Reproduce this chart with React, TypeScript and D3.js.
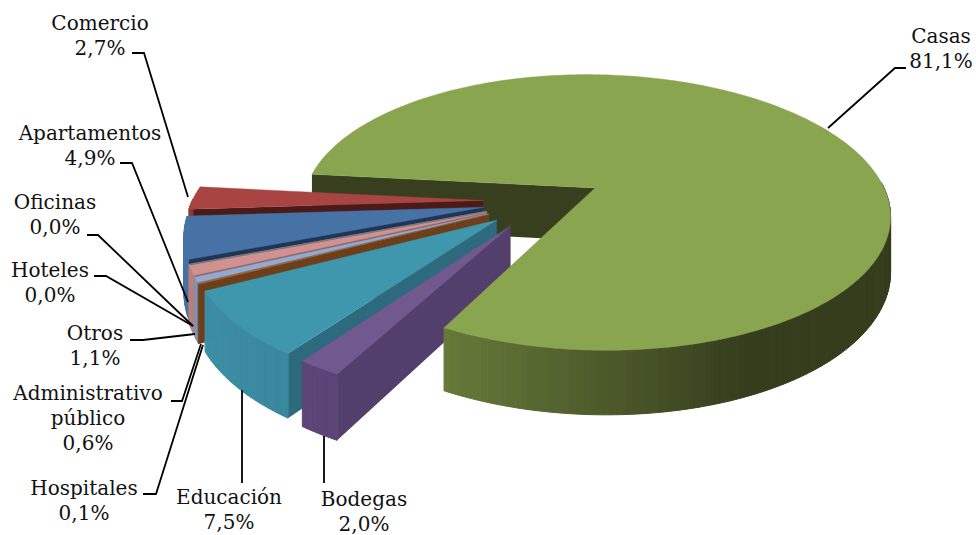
import * as d3 from "d3";

type Slice = { name: string; value: number };

const WIDTH = 976;
const HEIGHT = 535;

// same order as the workbook, clockwise from the back left
const names = ["Casas", "Bodegas", "Educación", "Hospitales", "Administrativo público", "Otros", "Hoteles", "Oficinas", "Apartamentos", "Comercio"];
const shares = [81.1, 2.0, 7.5, 0.1, 0.6, 1.1, 0.0, 0.0, 4.9, 2.7];
const shareLabels = ["81,1%", "2,0%", "7,5%", "0,1%", "0,6%", "1,1%", "0,0%", "0,0%", "4,9%", "2,7%"];

const topColors = ["#8AA550", "#71588F", "#3F97AE", "#A9622A", "#94A9CF", "#D09291", "#9A8F8F", "#6F7F8F", "#4672A6", "#A84442"];
const cutColors = ["#373F1E", "#533F6B", "#2E6A7D", "#6C3F1A", "#5B6B8A", "#8A6463", "#5F5A5A", "#45505C", "#1F3557", "#4A1A18"];
const rimLight = ["#849E4A", "#62497F", "#3F90A7", "#7A4A1E", "#8296BA", "#B98281", "#8A8080", "#5F6F7F", "#4672A6", "#8E3A38"];
const rimDark = ["#353D1D", "#4F3C67", "#2C7388", "#6C3F1A", "#5B6B8A", "#8A6463", "#5F5A5A", "#45505C", "#30507A", "#4A1A18"];

// screen layout of the labels: [centre x, first baseline] and leader polyline
const labelPos: [number, number][] = [[941, 43], [364, 506], [229, 504], [84, 495], [88, 400], [95, 340], [50, 277], [55, 209], [90, 140], [100, 30]];
const labelLines: [number, number][][] = [
  [[828, 128], [895, 68], [906, 68]],
  [[324, 436], [324, 483]],
  [[242, 390], [242, 483]],
  [[143, 494], [156, 494], [203, 345]],
  [[171, 401], [182, 401], [201, 344]],
  [[130, 340], [143, 340], [195, 334]],
  [[94, 276], [106, 276], [193, 326]],
  [[87, 235], [98, 235], [193, 326]],
  [[120, 163], [132, 163], [188, 302]],
  [[132, 53], [144, 53], [188, 197]],
];

const FIRST_ANGLE = (276 * Math.PI) / 180;
const R = 291;
const R_CASAS = 294;
const SMALL_Z = 0.97; // the exploded slices come out a little shorter towards the viewer
const EXPLODE = 60;
const DEPTH = 54;
const OX = 543;
const OY = 201;
const TILT = 0.47;
const PERSP = 0.000614;

const project = (x: number, z: number, h = 0): [number, number] => {
  const s = 1 / (1 - PERSP * z);
  return [OX + x * s, OY + (z * TILT + h) * s];
};

const slices: Slice[] = names.map((name, i) => ({ name, value: shares[i] }));
const arcs = d3
  .pie<Slice>()
  .value((d) => d.value)
  .sort(null)
  .startAngle(FIRST_ANGLE)
  .endAngle(FIRST_ANGLE + Math.PI * 2)(slices);

const line = d3.line();
const shadeT = d3.scaleLinear().domain([-1, 0.4]).range([0, 1]).clamp(true);

const geometry = (i: number) => {
  const a = arcs[i];
  const mid = (a.startAngle + a.endAngle) / 2;
  const cx = EXPLODE * Math.sin(mid);
  const cz = -EXPLODE * Math.cos(mid);
  const rx = i === 0 ? R_CASAS : R;
  const rz = i === 0 ? R_CASAS : R * SMALL_Z;
  const rimAt = (t: number, h = 0) => project(cx + rx * Math.sin(t), cz - rz * Math.cos(t), h);
  const cutWall = [project(cx, cz), rimAt(a.startAngle), rimAt(a.startAngle, DEPTH), project(cx, cz, DEPTH)] as [number, number][];
  return { a, cx, cz, rimAt, cutWall };
};

const CutWall = ({ i }: { i: number }) => <path d={line(geometry(i).cutWall) + "Z"} fill={cutColors[i]} />;

const SliceBody = ({ i }: { i: number }) => {
  const { a, cx, cz, rimAt } = geometry(i);
  const steps = Math.max(2, Math.ceil((a.endAngle - a.startAngle) / 0.02));
  const angles = d3.range(steps + 1).map((k) => a.startAngle + ((a.endAngle - a.startAngle) * k) / steps);
  const shade = d3.interpolateRgb(rimLight[i], rimDark[i]);
  const top = [project(cx, cz), ...angles.map((t) => rimAt(t))] as [number, number][];

  return (
    <g>
      {angles.slice(1).map((t, k) => {
        // back half of the rim faces away
        if (Math.cos(t) > 0.02) return null;
        const quad = [rimAt(angles[k]), rimAt(t), rimAt(t, DEPTH), rimAt(angles[k], DEPTH)] as [number, number][];
        const c = shade(shadeT(Math.sin(t)));
        return <path key={k} d={line(quad) + "Z"} fill={c} stroke={c} strokeWidth={1} />;
      })}
      <path d={line(top) + "Z"} fill={topColors[i]} stroke={topColors[i]} strokeWidth={0.4} />
    </g>
  );
};

export default function App() {
  // back to front; Casas top and rim sit in front of the small exploded slices
  const drawOrder = [9, 8, 7, 6, 5, 4, 3, 2, 1];

  return (
    <svg width={WIDTH} height={HEIGHT} style={{ position: "absolute", left: 0, top: 0, background: "#fff" }}>
      <CutWall i={0} />
      {drawOrder.map((i) => (
        <g key={i}>
          <CutWall i={i} />
          <SliceBody i={i} />
        </g>
      ))}
      <SliceBody i={0} />
      {labelLines.map((pts, i) => (
        <path key={i} d={line(pts) ?? ""} fill="none" stroke="#000" strokeWidth={1.8} />
      ))}
      <g fontFamily="'DejaVu Serif', serif" fontSize={20} fill="#111" textAnchor="middle">
        {names.map((name, i) => {
          const rows = name === "Administrativo público" ? ["Administrativo", "público", shareLabels[i]] : [name, shareLabels[i]];
          return (
            <text key={name} x={labelPos[i][0]} y={labelPos[i][1]}>
              {rows.map((r, k) => (
                <tspan key={k} x={labelPos[i][0]} dy={k === 0 ? 0 : 25}>
                  {r}
                </tspan>
              ))}
            </text>
          );
        })}
      </g>
    </svg>
  );
}
